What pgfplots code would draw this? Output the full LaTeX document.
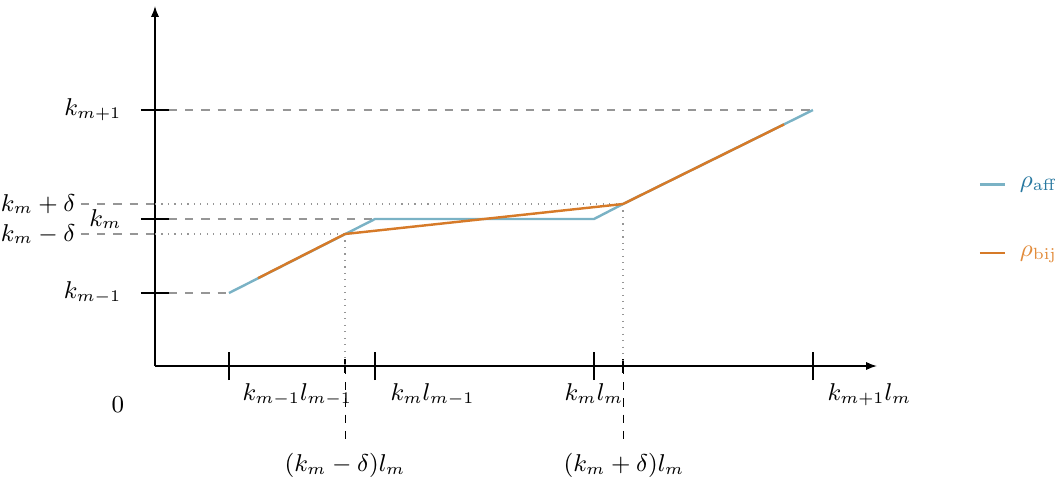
\documentclass[border=0pt]{standalone}
\usepackage{pgfplots}
\pgfplotsset{compat=1.18}
\usetikzlibrary{arrows.meta}
\definecolor{affline}{RGB}{122,178,197}
\definecolor{bijline}{RGB}{214,122,40}
\definecolor{afftext}{RGB}{40,120,160}
\definecolor{bijtext}{RGB}{226,140,60}
\definecolor{guide}{RGB}{150,150,150}

\begin{document}
\begin{tikzpicture}[every node/.style={font=\small}]
\begin{axis}[
    x=0.37pt, y=0.37pt,
    xmin=0, xmax=722, ymin=0, ymax=360,
    axis lines=middle,
    axis line style={line width=0.55pt, -{Latex[length=4pt,width=3pt]}},
    xtick={74,220,439,658}, ytick={73,147,256},
    xticklabels={}, yticklabels={},
    extra x ticks={190,468}, extra x tick labels={},
    extra x tick style={major tick length=5pt},
    major tick length=10.4pt,
    tick style={black, line width=0.9pt},
    clip=false,
    legend style={draw=none, fill=none, at={(axis cs:815,200)}, anchor=north west,
        row sep=16pt, font=\normalsize, nodes={inner xsep=5pt}},
    legend cell align=left,
    legend image code/.code={\draw[#1] (0cm,0cm) -- (0.33cm,0cm);},
]
% guide lines
\draw[guide, dashed, line width=0.4pt] (axis cs:14,256) -- (axis cs:658,256);
\draw[guide, dashed, line width=0.4pt] (axis cs:14,147) -- (axis cs:220,147);
\draw[guide, dashed, line width=0.4pt] (axis cs:14,73) -- (axis cs:74,73);
\draw[guide, dashed, line width=0.4pt] (axis cs:-74,162) -- (axis cs:0,162);
\draw[guide, dashed, line width=0.4pt] (axis cs:-74,132) -- (axis cs:0,132);
\draw[guide, dotted, line width=0.4pt] (axis cs:0,162) -- (axis cs:468,162);
\draw[guide, dotted, line width=0.4pt] (axis cs:0,132) -- (axis cs:190,132);
\draw[guide, dotted, line width=0.4pt] (axis cs:190,132) -- (axis cs:190,0);
\draw[guide, dotted, line width=0.4pt] (axis cs:468,162) -- (axis cs:468,0);
\draw[black, dashed, line width=0.35pt] (axis cs:190,0) -- (axis cs:190,-74);
\draw[black, dashed, line width=0.35pt] (axis cs:468,0) -- (axis cs:468,-74);

\addplot[affline, line width=0.9pt] coordinates {
    (74,73) (220,147) (439,147) (468,162) (658,256)};
\addplot[bijline, line width=0.9pt] coordinates {
    (103,87.8) (190,132) (468,162) (629,241.6)};
\legend{\textcolor{afftext}{$\rho_{\mathrm{aff}}$}, \textcolor{bijtext}{$\rho_{\mathrm{bij}}$}}

% y labels
\node[anchor=east] at (axis cs:-24,256) {$k_{m+1}$};
\node[anchor=east] at (axis cs:-24,147) {$k_m$};
\node[anchor=east] at (axis cs:-24,73) {$k_{m-1}$};
\node[anchor=east, inner sep=0pt] at (axis cs:-79,162) {$k_m+\delta$};
\node[anchor=east, inner sep=0pt] at (axis cs:-79,132) {$k_m-\delta$};
% x labels
\node[anchor=north west] at (axis cs:78,-8) {$k_{m-1}l_{m-1}$};
\node[anchor=north west] at (axis cs:226,-8) {$k_m l_{m-1}$};
\node[anchor=north] at (axis cs:439,-8) {$k_m l_m$};
\node[anchor=north west] at (axis cs:663,-8) {$k_{m+1}l_m$};
\node[anchor=north] at (axis cs:190,-78) {$(k_m-\delta)l_m$};
\node[anchor=north] at (axis cs:469,-78) {$(k_m+\delta)l_m$};
\node at (axis cs:-37,-39) {$0$};

\coordinate (bbl) at (axis cs:-155,-112);
\coordinate (btr) at (axis cs:900,366);
\end{axis}
\pgfresetboundingbox
\path[use as bounding box] (bbl) rectangle (btr);
\end{tikzpicture}
\end{document}
